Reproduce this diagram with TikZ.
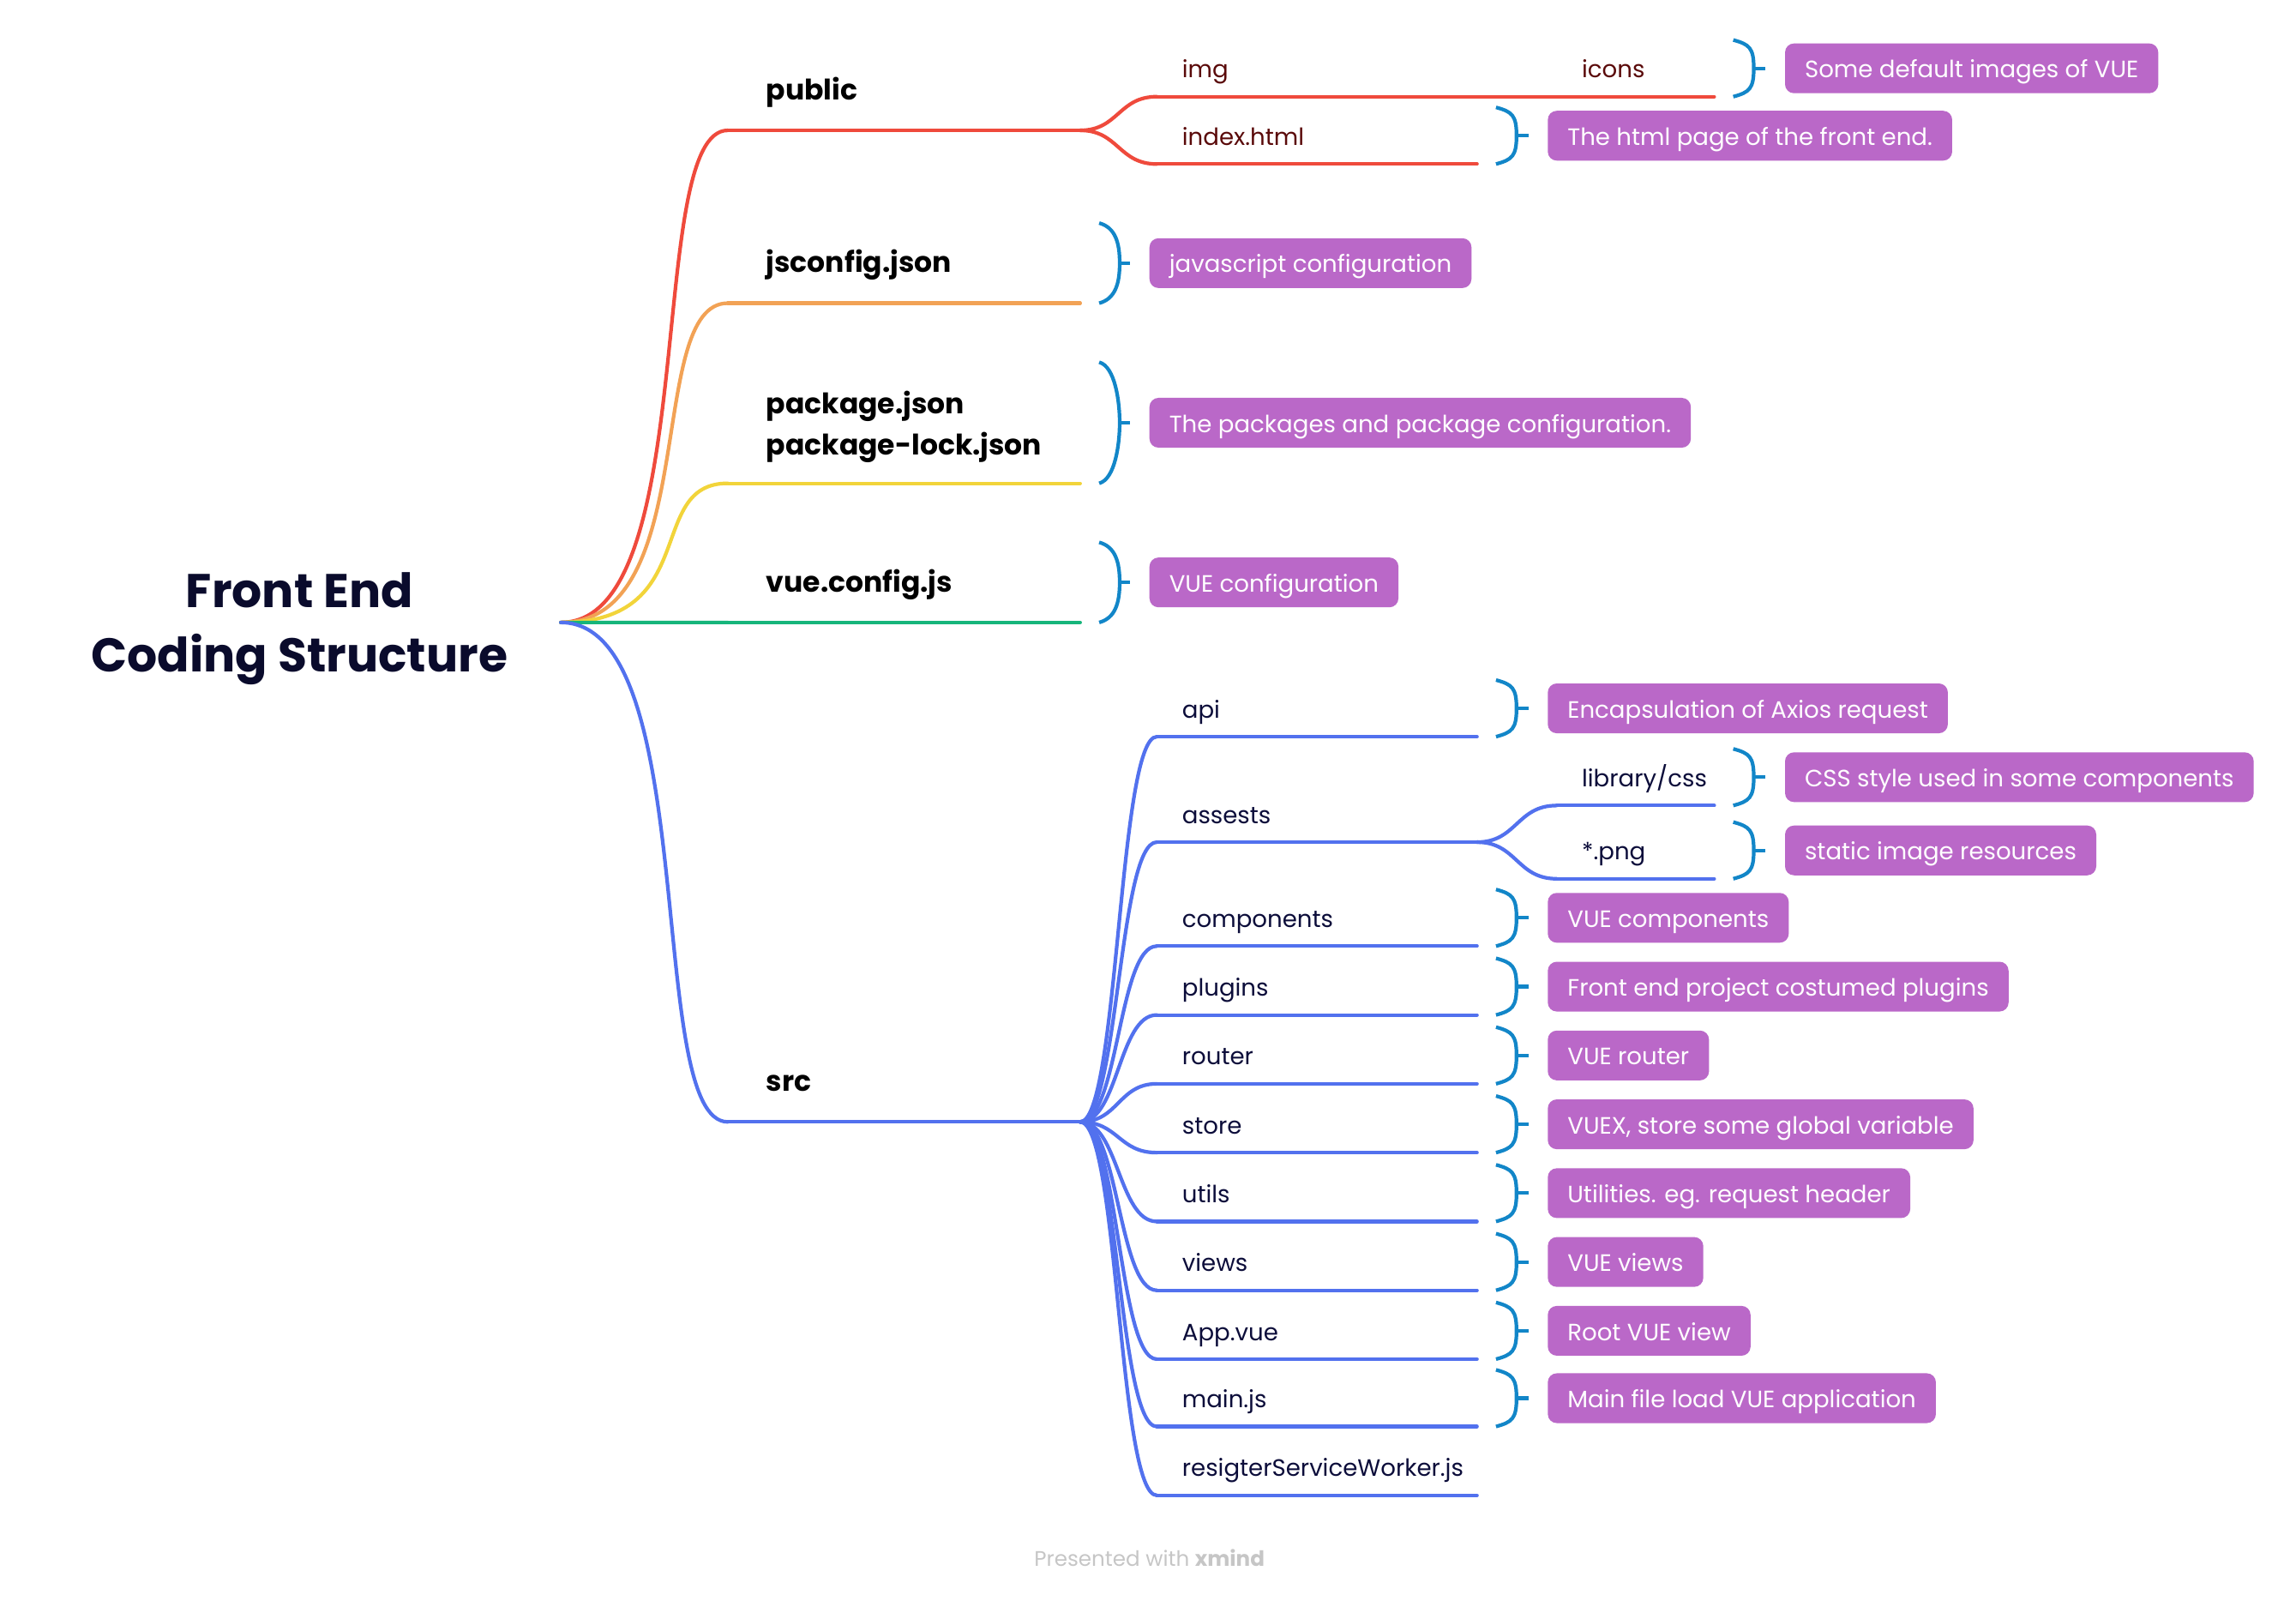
\documentclass[tikz,border=0pt]{standalone}
\usepackage{fontspec}
\setmainfont{Poppins}
\usetikzlibrary{calc}

\definecolor{cRed}{HTML}{EF4A3C}
\definecolor{cOrange}{HTML}{F2A255}
\definecolor{cYellow}{HTML}{F2D43A}
\definecolor{cGreen}{HTML}{16B57B}
\definecolor{cBlue}{HTML}{5271EE}
\definecolor{cBrk}{HTML}{1286C8}
\definecolor{cPurple}{HTML}{BA68C8}
\definecolor{cNavy}{HTML}{0C0D3A}
\definecolor{cMaroon}{HTML}{5A0A0A}
\definecolor{cRoot}{HTML}{0A0B2C}
\definecolor{cGrey}{HTML}{C6C6C6}

% curved connector: leaves the first point horizontally, reaches the second horizontally
\newcommand\branch[4][0.6]{%
  \draw[#2] (#3) .. controls ($(#3)!#1!(#4 |- #3)$) and ($(#4)!0.5!(#3 |- #4)$) .. (#4);}
% underline of a topic
\newcommand\uline[2]{\draw[#1] (#2.south west) -- (#2.south east);}
% summary bracket on the right of a topic, with its tick towards the note box
\newcommand\xbrk[2]{%
  \draw[brk] ($(#1.north east)+(13,0)$)
     .. controls ($(#1.north east)+(24,3)$) and ($(#1.east)+(27,-14)$) .. ($(#1.east)+(27,0)$)
     .. controls ($(#1.east)+(27,14)$) and ($(#1.south east)+(24,-3)$) .. ($(#1.south east)+(13,0)$);
  \draw[brk] ($(#1.east)+(27,0)$) -- ($(#2.west)+(-13,0)$);}

\tikzset{
  root/.style={font=\bfseries\fontsize{18.4}{25}\selectfont, text=cRoot, align=center,
    inner xsep=0.72cm, inner ysep=0pt},
  oneline/.style={text height=0.86em, text depth=0.12em},
  topicbase/.style={anchor=south west, inner xsep=0pt, inner ysep=0pt, align=left,
    execute at begin node={\hyphenpenalty=10000\exhyphenpenalty=10000}},
  maintopicbase/.style={topicbase, font=\bfseries\fontsize{11}{16}\selectfont, text=black,
    text width=4.8cm, minimum height=1.08cm,
    execute at begin node={\leftskip=0.52cm}},
  maintopic/.style={maintopicbase, oneline},
  subtopic/.style={topicbase, oneline, font=\fontsize{9.2}{12}\selectfont, text=cNavy,
    text width=4.36cm, minimum height=0.76cm,
    execute at begin node={\leftskip=0.34cm}},
  pubtopic/.style={subtopic, text=cMaroon},
  leaftopic/.style={subtopic, text width=2.14cm},
  ln/.style={line width=1.4pt, line cap=round},
  lnRed/.style={ln, draw=cRed},
  lnOrange/.style={ln, draw=cOrange},
  lnYellow/.style={ln, draw=cYellow},
  lnGreen/.style={ln, draw=cGreen},
  lnBlue/.style={ln, draw=cBlue},
  brk/.style={draw=cBrk, line width=1.4pt},
  note/.style={anchor=west, fill=cPurple, rounded corners=3.5pt, text=white, oneline,
    font=\fontsize{9.2}{12}\selectfont, minimum height=0.68cm, inner xsep=0.27cm,
    inner ysep=0pt},
  credit/.style={font=\fontsize{8.2}{10}\selectfont, text=cGrey}
}

\begin{document}
\begin{tikzpicture}[x=0.02cm, y=-0.02cm]
\useasboundingbox[fill=white] (0,0) rectangle (1568,1093);

% central topic
\node[root, anchor=east] (root) at (383,429) {Front End\\Coding Structure};
\coordinate (hub) at ($(root.east)+(0,-4)$);

% main topics
\node[maintopic] (public) at (497,89) {public};
\node[maintopic] (jsconfig) at (497,207) {jsconfig.json};
\node[maintopicbase, minimum height=1.64cm, text height=10pt, text depth=16.8pt] (package)
  at (497,330) {package.json\\package-lock.json};
\node[maintopic] (vueconfig) at (497,425) {vue.config.js};
\node[maintopic] (src) at (497,766) {src};

\branch[0.85]{lnRed}{hub}{public.south west}
\branch[0.85]{lnOrange}{hub}{jsconfig.south west}
\branch[0.85]{lnYellow}{hub}{package.south west}
\branch[0.85]{lnGreen}{hub}{vueconfig.south west}
\branch[0.85]{lnBlue}{hub}{src.south west}
\uline{lnRed}{public}
\uline{lnOrange}{jsconfig}
\uline{lnYellow}{package}
\uline{lnGreen}{vueconfig}
\uline{lnBlue}{src}

% public
\node[pubtopic] (img) at (790,66) {img};
\node[pubtopic, text width=2.14cm] (icons) at (1063,66) {icons};
\node[pubtopic] (index) at (790,112) {index.html};
\branch[0.5]{lnRed}{public.south east}{img.south west}
\branch[0.5]{lnRed}{public.south east}{index.south west}
\draw[lnRed] (img.south east) -- (icons.south west);
\uline{lnRed}{img}
\uline{lnRed}{icons}
\uline{lnRed}{index}

% src
\node[subtopic] (api) at (790,503) {api};
\node[subtopic] (assests) at (790,575) {assests};
\node[leaftopic] (css) at (1063,550) {library/css};
\node[leaftopic] (png) at (1063,600) {*.png};
\node[subtopic] (components) at (790,646) {components};
\node[subtopic] (plugins) at (790,693) {plugins};
\node[subtopic] (router) at (790,740) {router};
\node[subtopic] (store) at (790,787) {store};
\node[subtopic] (utils) at (790,834) {utils};
\node[subtopic] (views) at (790,881) {views};
\node[subtopic] (appvue) at (790,928) {App.vue};
\node[subtopic] (mainjs) at (790,974) {main.js};
\node[subtopic] (sworker) at (790,1021) {resigterServiceWorker.js};

\foreach \n in {api,assests,components,plugins,router,store,utils,views,appvue,mainjs,sworker}{
  \branch[0.5]{lnBlue}{src.south east}{\n.south west}
  \uline{lnBlue}{\n}
}
\branch[0.5]{lnBlue}{assests.south east}{css.south west}
\branch[0.5]{lnBlue}{assests.south east}{png.south west}
\uline{lnBlue}{css}
\uline{lnBlue}{png}

% notes
\node[note] (nIcons) at ($(icons.east)+(48,0)$) {Some default images of VUE};
\node[note] (nIndex) at ($(index.east)+(48,0)$) {The html page of the front end.};
\node[note] (nJs) at ($(jsconfig.east)+(47,0)$) {javascript configuration};
\node[note] (nPkg) at ($(package.east)+(47,0)$) {The packages and package configuration.};
\node[note] (nVue) at ($(vueconfig.east)+(47,0)$) {VUE configuration};
\node[note] (nApi) at ($(api.east)+(48,0)$) {Encapsulation of Axios request};
\node[note] (nCss) at ($(css.east)+(48,0)$) {CSS style used in some components};
\node[note] (nPng) at ($(png.east)+(48,0)$) {static image resources};
\node[note] (nComp) at ($(components.east)+(48,0)$) {VUE components};
\node[note] (nPlug) at ($(plugins.east)+(48,0)$) {Front end project costumed plugins};
\node[note] (nRouter) at ($(router.east)+(48,0)$) {VUE router};
\node[note] (nStore) at ($(store.east)+(48,0)$) {VUEX, store some global variable};
\node[note] (nUtils) at ($(utils.east)+(48,0)$) {Utilities. eg. request header};
\node[note] (nViews) at ($(views.east)+(48,0)$) {VUE views};
\node[note] (nApp) at ($(appvue.east)+(48,0)$) {Root VUE view};
\node[note] (nMain) at ($(mainjs.east)+(48,0)$) {Main file load VUE application};

\xbrk{icons}{nIcons}
\xbrk{index}{nIndex}
\xbrk{jsconfig}{nJs}
\xbrk{package}{nPkg}
\xbrk{vueconfig}{nVue}
\xbrk{api}{nApi}
\xbrk{css}{nCss}
\xbrk{png}{nPng}
\xbrk{components}{nComp}
\xbrk{plugins}{nPlug}
\xbrk{router}{nRouter}
\xbrk{store}{nStore}
\xbrk{utils}{nUtils}
\xbrk{views}{nViews}
\xbrk{appvue}{nApp}
\xbrk{mainjs}{nMain}

\node[credit] (credit) at (785,1064) {Presented with \textbf{xmind}};
\end{tikzpicture}
\end{document}
